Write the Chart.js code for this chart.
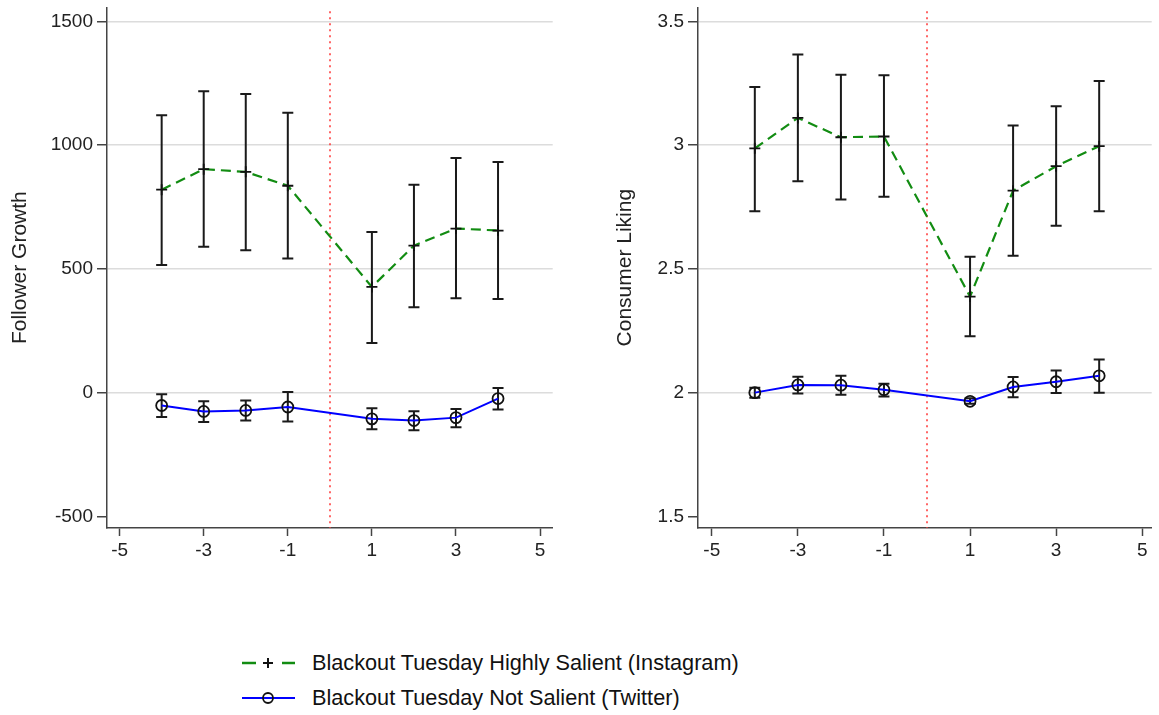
<!DOCTYPE html>
<html>
<head>
<meta charset="utf-8">
<script src="https://cdn.jsdelivr.net/npm/chart.js@4.4.1/dist/chart.umd.min.js"></script>
<style>
  body { margin: 0; background: #fff; width: 1159px; height: 715px; overflow: hidden; position: relative;
         font-family: Arial, "Liberation Sans", sans-serif; }
  #left { position: absolute; left: 0; top: 0; }
  #right { position: absolute; left: 605px; top: 0; }
  #legend { position: absolute; left: 242px; top: 645px; font-size: 21.7px; color: #111; }
  .row { height: 35px; display: flex; align-items: center; }
  .row svg { margin-right: 17px; }
</style>
</head>
<body>
<canvas id="left" width="560" height="560"></canvas>
<canvas id="right" width="554" height="560"></canvas>
<div id="legend">
  <div class="row">
    <svg width="53" height="20">
      <line x1="0" y1="10" x2="14" y2="10" stroke="#128c12" stroke-width="2.5"/>
      <line x1="21" y1="10" x2="31" y2="10" stroke="#111" stroke-width="2"/>
      <line x1="26" y1="5" x2="26" y2="15" stroke="#111" stroke-width="2"/>
      <line x1="40" y1="10" x2="53" y2="10" stroke="#128c12" stroke-width="2.5"/>
    </svg>
    <span>Blackout Tuesday Highly Salient (Instagram)</span>
  </div>
  <div class="row">
    <svg width="53" height="20">
      <line x1="0" y1="10" x2="53" y2="10" stroke="#0000ff" stroke-width="2"/>
      <circle cx="26" cy="10" r="5" fill="none" stroke="#111" stroke-width="1.8"/>
    </svg>
    <span>Blackout Tuesday Not Salient (Twitter)</span>
  </div>
</div>
<script>
// weeks relative to Blackout Tuesday
const periods = [-4, -3, -2, -1, 1, 2, 3, 4];

// Follower growth
const followInsta = [820, 903, 892, 836, 427, 594, 663, 655];
const followInstaLo = [516, 589, 575, 542, 201, 345, 381, 378];
const followInstaHi = [1121, 1218, 1207, 1131, 649, 840, 948, 932];
const followTwit = [-52, -76, -72, -58, -106, -113, -101, -24];
const followTwitLo = [-98, -119, -113, -117, -148, -152, -140, -68];
const followTwitHi = [-7, -35, -32, 3, -63, -75, -66, 19];

// Consumer liking
const likeInsta = [2.987, 3.110, 3.032, 3.035, 2.388, 2.816, 2.915, 2.996];
const likeInstaLo = [2.733, 2.854, 2.780, 2.791, 2.228, 2.553, 2.674, 2.733];
const likeInstaHi = [3.235, 3.366, 3.284, 3.282, 2.549, 3.079, 3.157, 3.259];
const likeTwit = [2.000, 2.031, 2.030, 2.012, 1.965, 2.023, 2.044, 2.068];
const likeTwitLo = [1.979, 1.996, 1.991, 1.984, 1.955, 1.981, 1.999, 2.000];
const likeTwitHi = [2.020, 2.064, 2.068, 2.036, 1.977, 2.063, 2.089, 2.134];

const xTicks = [-5, -3, -1, 1, 3, 5];
const xTickLabels = ["-5", "-3", "-1", "1", "3", "5"];
const followTicks = [-500, 0, 500, 1000, 1500];
const followTickLabels = ["-500", "0", "500", "1000", "1500"];
const likeTicks = [1.5, 2, 2.5, 3, 3.5];
const likeTickLabels = ["1.5", "2", "2.5", "3", "3.5"];

Chart.defaults.font.family = 'Arial, "Liberation Sans", sans-serif';
Chart.defaults.color = "#222";

const AXIS = "#444";

// rcap style error bars
const errorBars = {
  id: "errorBars",
  beforeDatasetsDraw(chart) {
    const { ctx, scales: { x, y } } = chart;
    ctx.save();
    ctx.strokeStyle = "#1a1a1a";
    ctx.lineWidth = 2;
    chart.data.datasets.forEach(ds => {
      if (!ds.lo) return;
      ds.data.forEach((p, i) => {
        const px = x.getPixelForValue(p.x);
        const y1 = y.getPixelForValue(ds.lo[i]);
        const y2 = y.getPixelForValue(ds.hi[i]);
        ctx.beginPath();
        ctx.moveTo(px, y1); ctx.lineTo(px, y2);
        ctx.moveTo(px - ds.cap, y1); ctx.lineTo(px + ds.cap, y1);
        ctx.moveTo(px - ds.cap, y2); ctx.lineTo(px + ds.cap, y2);
        ctx.stroke();
      });
    });
    ctx.restore();
  }
};

// dotted reference line at period 0
const zeroLine = {
  id: "zeroLine",
  beforeDatasetsDraw(chart) {
    const { ctx, chartArea, scales: { x } } = chart;
    const px = Math.round(x.getPixelForValue(0));
    ctx.save();
    ctx.strokeStyle = "#ff4040";
    ctx.lineWidth = 1.6;
    ctx.setLineDash([2, 4]);
    ctx.beginPath();
    ctx.moveTo(px, chartArea.top + 4);
    ctx.lineTo(px, chartArea.bottom);
    ctx.stroke();
    ctx.restore();
  }
};

function noPad(s) {
  s.paddingTop = 0; s.paddingBottom = 0;
  s.paddingLeft = 0; s.paddingRight = 0;
}

function makePanel(id, o) {
  return new Chart(document.getElementById(id), {
    type: "line",
    data: {
      datasets: [
        {
          data: periods.map((p, i) => ({ x: p, y: o.insta[i] })),
          lo: o.instaLo, hi: o.instaHi, cap: 5.5,
          borderColor: "#128c12", borderWidth: 2.2, borderDash: [10, 6],
          pointStyle: "cross", pointRadius: 5.5, pointBorderColor: "#111", pointBorderWidth: 1.8,
          tension: 0
        },
        {
          data: periods.map((p, i) => ({ x: p, y: o.twit[i] })),
          lo: o.twitLo, hi: o.twitHi, cap: 5.5,
          borderColor: "#0000ff", borderWidth: 2,
          pointStyle: "circle", pointRadius: 5.5, pointBackgroundColor: "rgba(0,0,0,0)",
          pointBorderColor: "#111", pointBorderWidth: 1.8,
          tension: 0
        }
      ]
    },
    options: {
      responsive: false,
      animation: false,
      events: [],
      layout: { padding: { top: 5, right: o.padRight, left: 0, bottom: 0 } },
      plugins: { legend: { display: false }, tooltip: { enabled: false } },
      scales: {
        x: {
          type: "linear",
          min: o.xMin, max: o.xMax,
          afterBuildTicks: s => { s.ticks = xTicks.map(v => ({ value: v })); },
          afterFit: s => { s.height = 32; noPad(s); },
          ticks: { callback: (v, i) => xTickLabels[i], font: { size: 19 }, padding: 3, maxRotation: 0, autoSkip: false },
          grid: { drawOnChartArea: false, drawTicks: true, tickLength: 8, tickColor: AXIS, tickWidth: 1.5 },
          border: { color: AXIS, width: 1.5 }
        },
        y: {
          type: "linear",
          min: o.yMin, max: o.yMax,
          afterBuildTicks: s => { s.ticks = o.yTicks.map(v => ({ value: v })); },
          afterFit: s => { s.width = o.yWidth; noPad(s); },
          ticks: { callback: (v, i) => o.yLabels[i], font: { size: 19 }, padding: 4, autoSkip: false },
          grid: {
            color: c => (c.index === 0 ? "rgba(0,0,0,0)" : "#dcdcdc"),
            lineWidth: 1.5, drawTicks: true, tickLength: 10, tickColor: AXIS, tickWidth: 1.5
          },
          border: { color: AXIS, width: 1.5 },
          title: { display: true, text: o.title, font: { size: 21 }, color: "#222", padding: { top: 8, bottom: 0 } }
        }
      }
    },
    plugins: [zeroLine, errorBars]
  });
}

makePanel("left", {
  insta: followInsta, instaLo: followInstaLo, instaHi: followInstaHi,
  twit: followTwit, twitLo: followTwitLo, twitHi: followTwitHi,
  yMin: -547, yMax: 1557, yTicks: followTicks, yLabels: followTickLabels,
  xMin: -5.3, xMax: 5.3, yWidth: 107, padRight: 2, title: "Follower Growth"
});

makePanel("right", {
  insta: likeInsta, instaLo: likeInstaLo, instaHi: likeInstaHi,
  twit: likeTwit, twitLo: likeTwitLo, twitHi: likeTwitHi,
  yMin: 1.453, yMax: 3.557, yTicks: likeTicks, yLabels: likeTickLabels,
  xMin: -5.32, xMax: 5.22, yWidth: 93, padRight: 0, title: "Consumer Liking"
});
</script>
</body>
</html>
